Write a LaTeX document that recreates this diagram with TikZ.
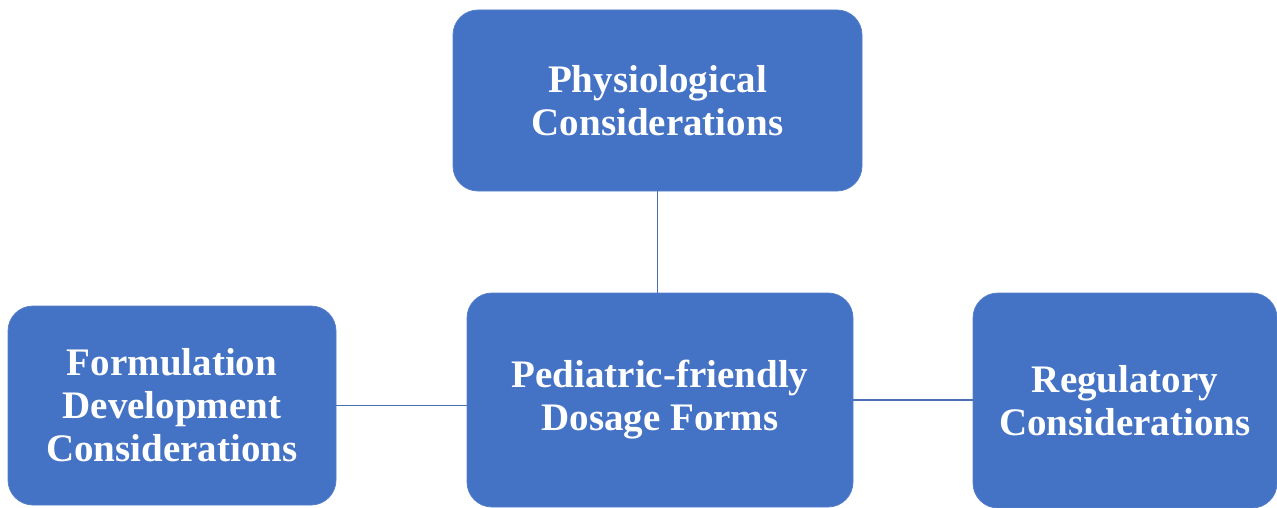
\documentclass[tikz,border=0pt]{standalone}
\usepackage{fontspec}
\setmainfont{Liberation Serif}
\definecolor{boxblue}{HTML}{4472C4}
\definecolor{linkblue}{HTML}{4A6FB5}
\begin{document}
\begin{tikzpicture}[x=1pt,y=1pt,
  box/.style={draw=boxblue!90!white, line width=0.8pt, fill=boxblue, rounded corners=25pt,
    text=white, align=center, inner sep=0pt,
    font=\bfseries\fontsize{39}{43}\selectfont},
  link/.style={draw=linkblue, line width=1.5pt}]
\useasboundingbox (0,0) rectangle (1277,-508);
\node[box, minimum width=409pt, minimum height=181pt] (phys) at (657.5,-100.5) {Physiological\\Considerations};
\node[box, minimum width=386pt, minimum height=214pt] (ped) at (660,-400) {Pediatric-friendly\\Dosage Forms};
\node[box, minimum width=328pt, minimum height=199pt] (form) at (172,-405.5) {Formulation\\Development\\Considerations};
\node[box, minimum width=304pt, minimum height=215pt] (reg) at (1125,-400.5) {Regulatory\\Considerations};
\draw[link] (phys.south) -- (phys.south |- ped.north);
\draw[link] (form.east) -- (form.east -| ped.west);
\draw[link] (ped.east) -- (ped.east -| reg.west);
\end{tikzpicture}
\end{document}
